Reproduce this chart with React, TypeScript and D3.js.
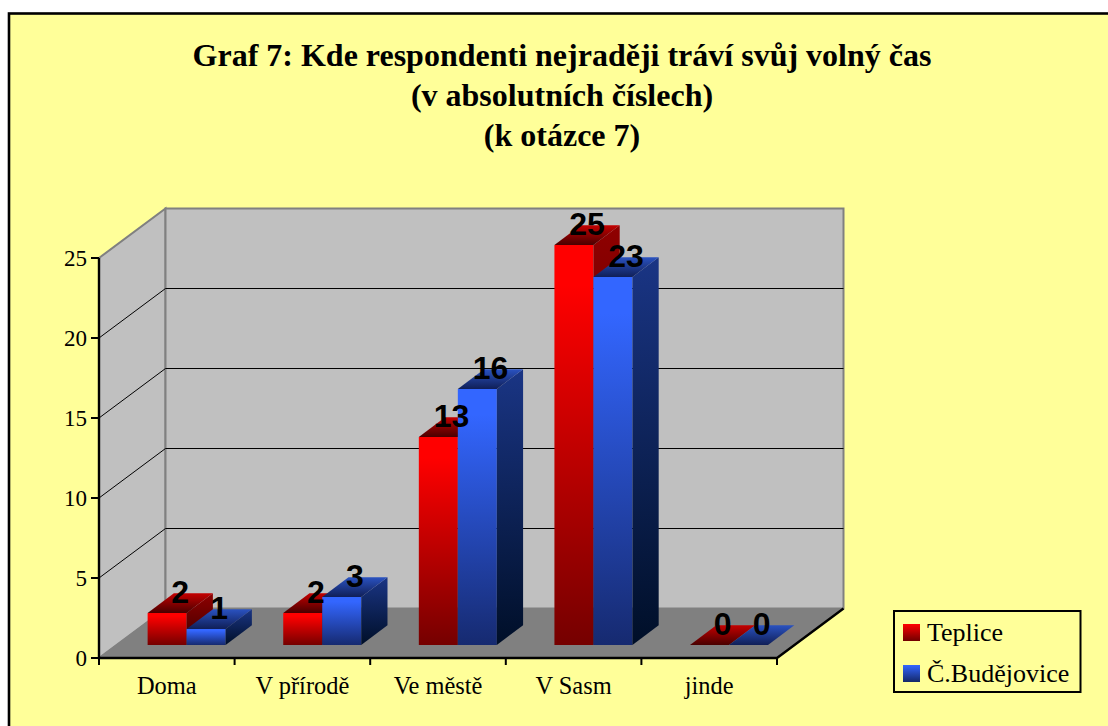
import React from "react";
import * as d3 from "d3";

const categories = ["Doma", "V přírodě", "Ve městě", "V Sasm", "jinde"];
const seriesNames = ["Teplice", "Č.Budějovice"];
const teplice = [2, 2, 13, 25, 0];
const budejovice = [1, 3, 16, 23, 0];
const yTicks = [0, 5, 10, 15, 20, 25];
const titleLines = [
  "Graf 7: Kde respondenti nejraději tráví svůj volný čas",
  "(v absolutních číslech)",
  "(k otázce 7)",
];

const W = 1108, H = 726;
const serif = "'Liberation Serif', serif";
const sans = "'Liberation Sans', sans-serif";

const x = d3.scaleBand<string>().domain(categories).range([99, 777]);
const y = d3.scaleLinear().domain([0, 25]).range([658, 258]);
const zx = d3.scaleLinear().domain([0, 1]).range([0, 66.5]);
const zy = d3.scaleLinear().domain([0, 1]).range([0, -49.5]);
const inner = d3.scaleBand<string>().domain(seriesNames).range([0, 78]);

const Z0 = 0.265, Z1 = 0.66, BAR_OFFSET = 31;

const pt = (px: number, v: number, z: number): [number, number] => [px + zx(z), y(v) + zy(z)];
const poly = d3.line();
const path = (pts: [number, number][]) => poly(pts)! + "Z";

const series = [
  { name: seriesNames[0], values: teplice, key: "r" },
  { name: seriesNames[1], values: budejovice, key: "b" },
];

const Grad = ({ id, stops }: { id: string; stops: [number, string][] }) => (
  <linearGradient id={id} x1="0" y1="0" x2="0" y2="1">
    {stops.map(([o, c]) => (
      <stop key={o} offset={o} stopColor={c} />
    ))}
  </linearGradient>
);

export default function App() {
  const d0 = y(0);
  return (
    <svg width={W} height={H} style={{ position: "absolute", left: 0, top: 0 }}>
      <defs>
        <Grad id="rFront" stops={[[0, "#ff0000"], [0.1, "#ff0000"], [1, "#750000"]]} />
        <Grad id="rSide" stops={[[0, "#8f0000"], [1, "#3a0000"]]} />
        <Grad id="rTop" stops={[[0, "#c40000"], [1, "#4a0000"]]} />
        <Grad id="bFront" stops={[[0, "#3366ff"], [0.1, "#3366ff"], [1, "#162a70"]]} />
        <Grad id="bSide" stops={[[0, "#1a3585"], [1, "#000f28"]]} />
        <Grad id="bTop" stops={[[0, "#2a52c0"], [1, "#101f58"]]} />
        <Grad id="rSwatch" stops={[[0, "#ff0000"], [1, "#700000"]]} />
        <Grad id="bSwatch" stops={[[0, "#3366ff"], [1, "#142868"]]} />
      </defs>

      <rect x={9} y={13.5} width={W} height={H} fill="#ffff99" stroke="#000" strokeWidth={2.6} />

      {/* walls and floor */}
      <path
        d={path([pt(99, 25, 0), pt(99, 25, 1), pt(99, 0, 1), pt(99, 0, 0)])}
        fill="#c0c0c0" stroke="#808080" strokeWidth={2}
      />
      <path
        d={path([pt(99, 25, 1), pt(777, 25, 1), pt(777, 0, 1), pt(99, 0, 1)])}
        fill="#c0c0c0" stroke="#808080" strokeWidth={2}
      />
      <path d={path([pt(99, 0, 0), pt(99, 0, 1), pt(777, 0, 1), pt(777, 0, 0)])} fill="#808080" stroke="#808080" />

      {/* gridlines */}
      {yTicks.filter((t) => t > 0 && t < 25).map((t) => (
        <path
          key={t}
          d={poly([pt(99, t, 0), pt(99, t, 1), pt(777, t, 1)])!}
          fill="none" stroke="#000" strokeWidth={1}
        />
      ))}

      {/* axes */}
      <path d={poly([[99, y(25)], [99, d0], [777, d0], pt(777, 0, 1)])!} fill="none" stroke="#000" strokeWidth={2.4} />
      {yTicks.map((t) => (
        <g key={t}>
          <line x1={91} x2={99} y1={y(t)} y2={y(t)} stroke="#000" strokeWidth={2} />
          <text x={87} y={y(t) + 8} textAnchor="end" fontFamily={serif} fontSize={23}>{t}</text>
        </g>
      ))}
      {categories.map((c) => (
        <line key={c} x1={x(c)!} x2={x(c)!} y1={d0} y2={d0 + 7} stroke="#000" strokeWidth={2} />
      ))}
      <line x1={777} x2={777} y1={d0} y2={d0 + 7} stroke="#000" strokeWidth={2} />
      {categories.map((c) => (
        <text key={c} x={x(c)! + x.bandwidth() / 2} y={694} textAnchor="middle" fontFamily={serif} fontSize={24.4}>{c}</text>
      ))}

      {/* bars */}
      {categories.map((c, i) =>
        series.map((s) => {
          const v = s.values[i];
          const x0 = x(c)! + BAR_OFFSET + inner(s.name)!;
          const x1 = x0 + inner.bandwidth();
          return (
            <g key={c + s.name}>
              {v > 0 && (
                <path d={path([pt(x0, v, Z0), pt(x1, v, Z0), pt(x1, 0, Z0), pt(x0, 0, Z0)])} fill={`url(#${s.key}Front)`} />
              )}
              {v > 0 && (
                <path d={path([pt(x1, v, Z0), pt(x1, v, Z1), pt(x1, 0, Z1), pt(x1, 0, Z0)])} fill={`url(#${s.key}Side)`} />
              )}
              <path d={path([pt(x0, v, Z0), pt(x1, v, Z0), pt(x1, v, Z1), pt(x0, v, Z1)])} fill={`url(#${s.key}Top)`} />
            </g>
          );
        })
      )}

      {/* data labels */}
      {categories.map((c, i) =>
        series.map((s) => {
          const v = s.values[i];
          const cx = x(c)! + BAR_OFFSET + inner(s.name)! + inner.bandwidth() / 2;
          const [lx, ly] = pt(cx, v, (Z0 + Z1) / 2);
          return (
            <text key={c + s.name} x={lx} y={ly - 0.5} textAnchor="middle" fontFamily={sans} fontWeight="bold" fontSize={32} fill="#000">
              {v}
            </text>
          );
        })
      )}

      {/* title */}
      {titleLines.map((t, i) => (
        <text key={t} x={562} y={66 + i * 40} textAnchor="middle" fontFamily={serif} fontWeight="bold" fontSize={32} fill="#000">
          {t}
        </text>
      ))}

      {/* legend */}
      <rect x={894} y={611} width={186.5} height={81} fill="#ffff99" stroke="#000" strokeWidth={2} />
      {series.map((s, i) => (
        <g key={s.name}>
          <rect x={903} y={624 + i * 41} width={17} height={17} fill={`url(#${s.key}Swatch)`} />
          <text x={927} y={641 + i * 41} fontFamily={serif} fontSize={26} fill="#000">{s.name}</text>
        </g>
      ))}
    </svg>
  );
}
